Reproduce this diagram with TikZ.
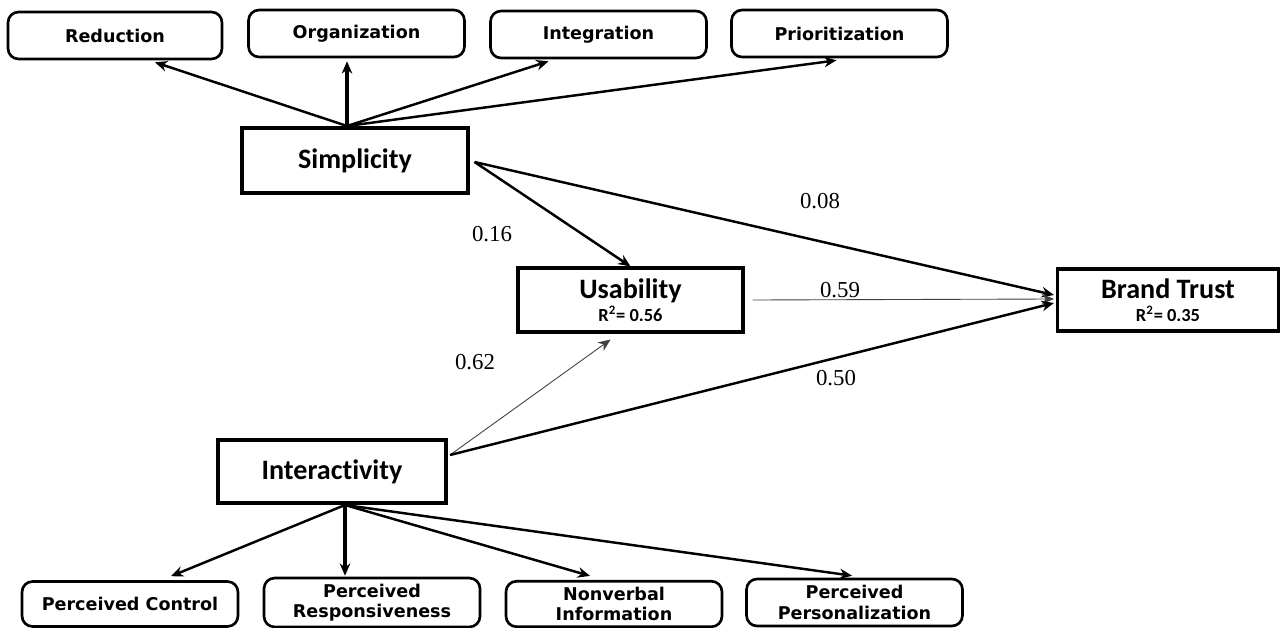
\documentclass[tikz,border=0pt]{standalone}
\usepackage{fontspec}
\setmainfont{Liberation Serif}
\newfontfamily\boxfont[Ligatures=NoCommon]{Carlito}
\newfontfamily\tagfont{DejaVu Sans}
\usetikzlibrary{shapes, arrows.meta, positioning, calc}

\tikzset{
    construct/.style={draw, line width=1.8pt, rectangle, align=center, font=\boxfont\bfseries\fontsize{16}{16}\selectfont},
    indicator/.style={draw, line width=1.5pt, rounded corners=6pt, align=center, minimum width=4.32cm, minimum height=0.94cm, font=\tagfont\bfseries\fontsize{10}{11.5}\selectfont},
    path/.style={->, line width=1.4pt},
    heavypath/.style={->, line width=2pt},
    thinpath/.style={->, line width=0.5pt, black!75},
    coef/.style={font=\fontsize{13}{14}\selectfont}
}
\newcommand{\rsq}[1]{\\[-3pt]{\fontsize{10.5}{11}\selectfont R\textsuperscript{2}= #1}}

\begin{document}
\begin{tikzpicture}[x=0.02cm, y=-0.02cm, >={Stealth[length=7pt,width=6pt]}]
        \useasboundingbox (0,0) rectangle (1281,628);

        % Constructs
        \node[construct, minimum width=4.52cm, minimum height=1.3cm] (simp) at (355,160.5) {Simplicity};
        \node[construct, minimum width=4.5cm, minimum height=1.28cm] (usab) at (630.5,300) {Usability\rsq{0.56}};
        \node[construct, minimum width=4.42cm, minimum height=1.24cm] (trust) at (1168,300) {Brand Trust\rsq{0.35}};
        \node[construct, minimum width=4.56cm, minimum height=1.26cm] (inter) at (332,471.5) {Interactivity};

        % Simplicity indicators
        \node[indicator, minimum width=4.28cm] (red) at (115,35.5) {Reduction};
        \node[indicator] (org) at (356.5,33.5) {Organization};
        \node[indicator] (integ) at (598.5,34.5) {Integration};
        \node[indicator] (prio) at (839.5,33.5) {Prioritization};

        % Interactivity indicators
        \node[indicator, minimum height=0.9cm] (pc) at (130,604) {Perceived Control};
        \node[indicator] (pr) at (372,602.5) {Perceived\\Responsiveness};
        \node[indicator, minimum height=0.88cm] (nv) at (614,604) {Nonverbal\\Information};
        \node[indicator] (pp) at (854.5,602.5) {Perceived\\Personalization};

        % Hubs
        \coordinate (shub) at (347,126);
        \coordinate (ihub) at (345,505);
        \coordinate (iout) at (450,455);

        \draw[path] (shub) -- ($(red.south)+(40,2)$);
        \draw[heavypath] (shub) -- ($(org.south)+(-9.5,3)$);
        \draw[path] (shub) -- ($(integ.south)+(-50,2)$);
        \draw[path] (shub) -- ($(prio.south)+(-3,2)$);

        \draw[path] (ihub) -- ($(pc.north)+(41,-4)$);
        \draw[heavypath] (ihub) -- ($(pr.north)+(-27,-1)$);
        \draw[path] (ihub) -- ($(nv.north)+(-24,-4)$);
        \draw[path] (ihub) -- ($(pp.north)+(-2.5,-2)$);

        % Structural paths
        \draw[path] ($(simp.east)+(5,1.5)$) -- (usab.north);
        \draw[path] ($(simp.east)+(5,1.5)$) -- ($(trust.west)+(-2,-5)$);
        \draw[thinpath] ($(usab.east)+(8,0)$) -- ($(trust.west)+(-2,-1)$);
        \draw[thinpath] (iout) -- ($(usab.south)+(-20,6)$);
        \draw[path] (iout) -- ($(trust.west)+(-2,3)$);

        % Coefficients
        \node[coef] at (820,201) {0.08};
        \node[coef] at (492,234) {0.16};
        \node[coef] at (840,290) {0.59};
        \node[coef] at (475,362) {0.62};
        \node[coef] at (836,378) {0.50};
    \end{tikzpicture}
\end{document}
